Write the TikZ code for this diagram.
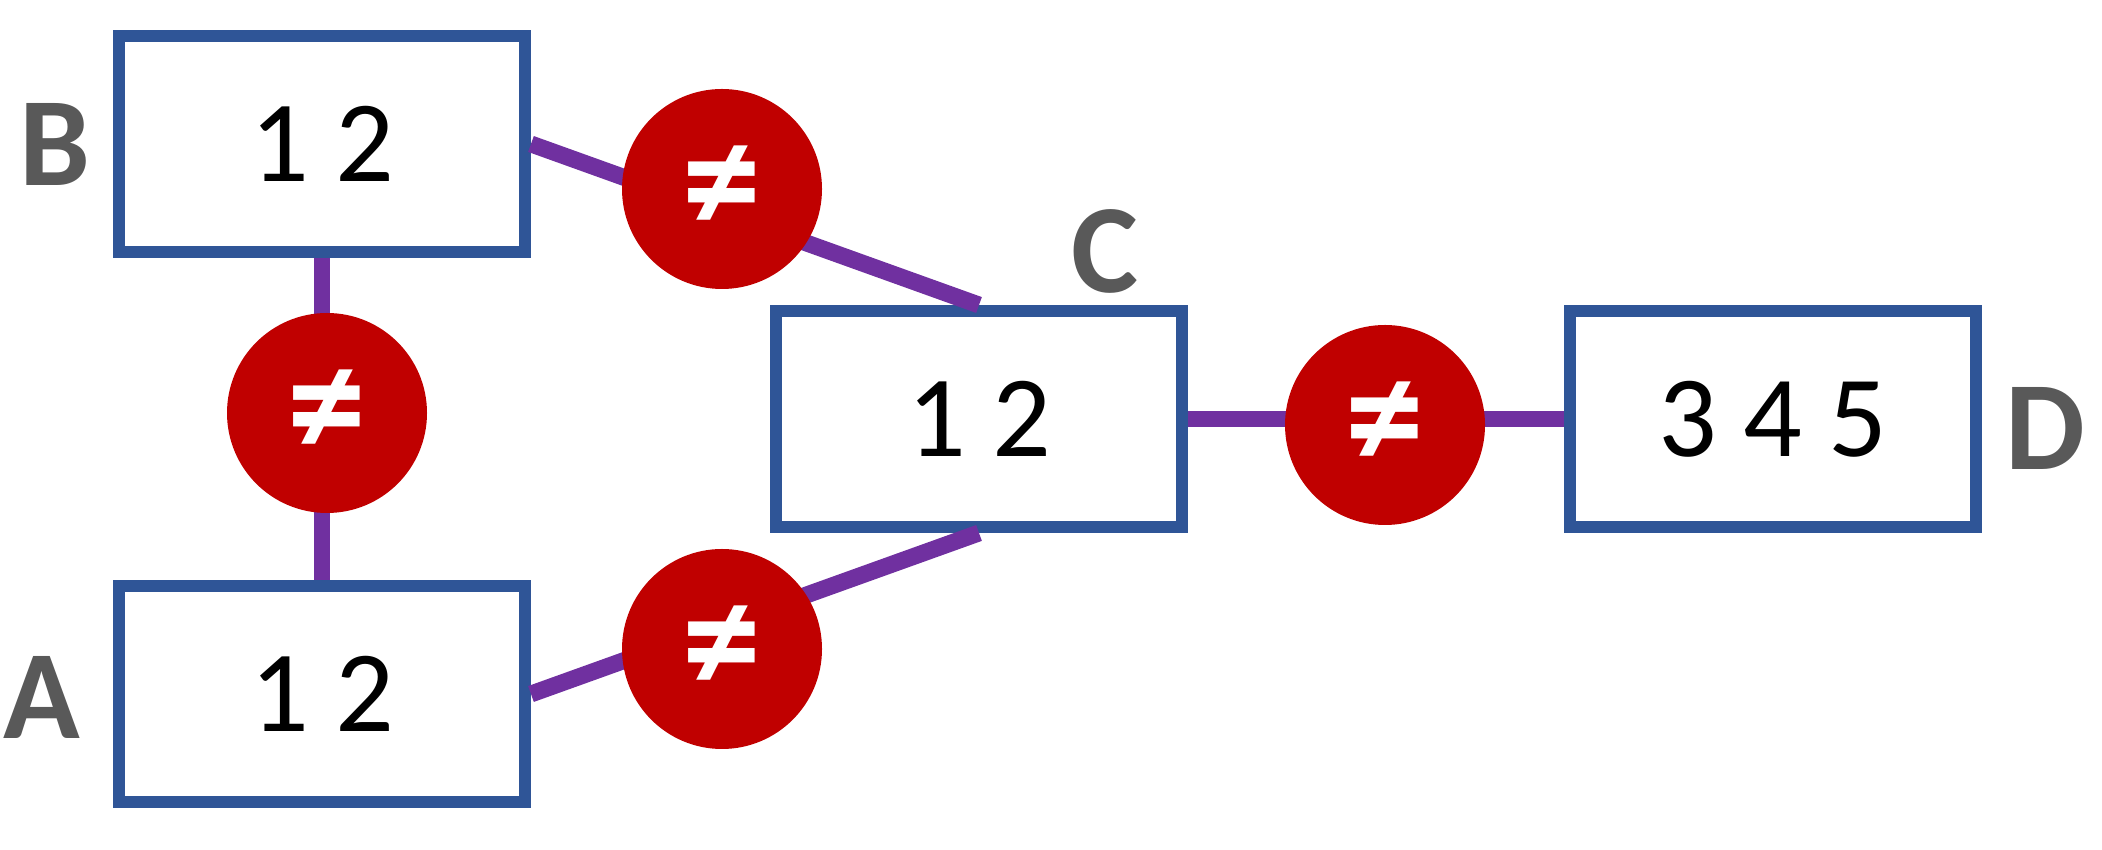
\documentclass[tikz,border=0pt]{standalone}
\usepackage{fontspec}
\setmainfont{Carlito}
\usepackage{tikz}
\usetikzlibrary{positioning}
\definecolor{boxblue}{RGB}{47, 85, 151}
\definecolor{linkpurple}{RGB}{112, 48, 160}
\definecolor{neqred}{RGB}{192, 0, 0}
\definecolor{namegray}{RGB}{89, 89, 89}

\begin{document}
\begin{tikzpicture}[
    setbox/.style={rectangle, draw=boxblue, fill=white, line width=3.4pt, minimum width=4.06cm, minimum height=2.16cm, font=\fontsize{33}{36}\selectfont},
    setname/.style={text=namegray, font=\fontsize{36}{40}\selectfont\bfseries},
    neq/.style={circle, fill=neqred, minimum size=2cm, inner sep=0pt, text=white, font=\fontsize{45}{48}\selectfont\bfseries},
    link/.style={linkpurple, line width=4.8pt},
]
    \useasboundingbox (0,0) rectangle (21.02,-8.5);
    % Sets
    \node[setbox] (b) at (3.22,-1.44) {1 2};
    \node[setbox] (a) at (3.22,-6.94) {1 2};
    \node[setbox] (c) at (9.79,-4.19) {1 2};
    \node[setbox] (d) at (17.73,-4.19) {3 4 5};
    % Set names
    \node[setname] (bname) at (0.55,-1.44) {B};
    \node[setname] (aname) at (0.42,-6.97) {A};
    \node[setname] (cname) at (11.05,-2.51) {C};
    \node[setname] (dname) at (20.45,-4.28) {D};
    % Links
    \draw[link] (b.south) -- (a.north);
    \draw[link] (b.east) -- (c.north);
    \draw[link] (a.east) -- (c.south);
    \draw[link] (c.east) -- (d.west);
    % Inequality marks
    \foreach \name/\x/\y in {ab/3.27/-4.13, bc/7.22/-1.89, ac/7.22/-6.49, cd/13.85/-4.25}
        \node[neq] (\name) at (\x,\y) {≠};
\end{tikzpicture}
\end{document}
